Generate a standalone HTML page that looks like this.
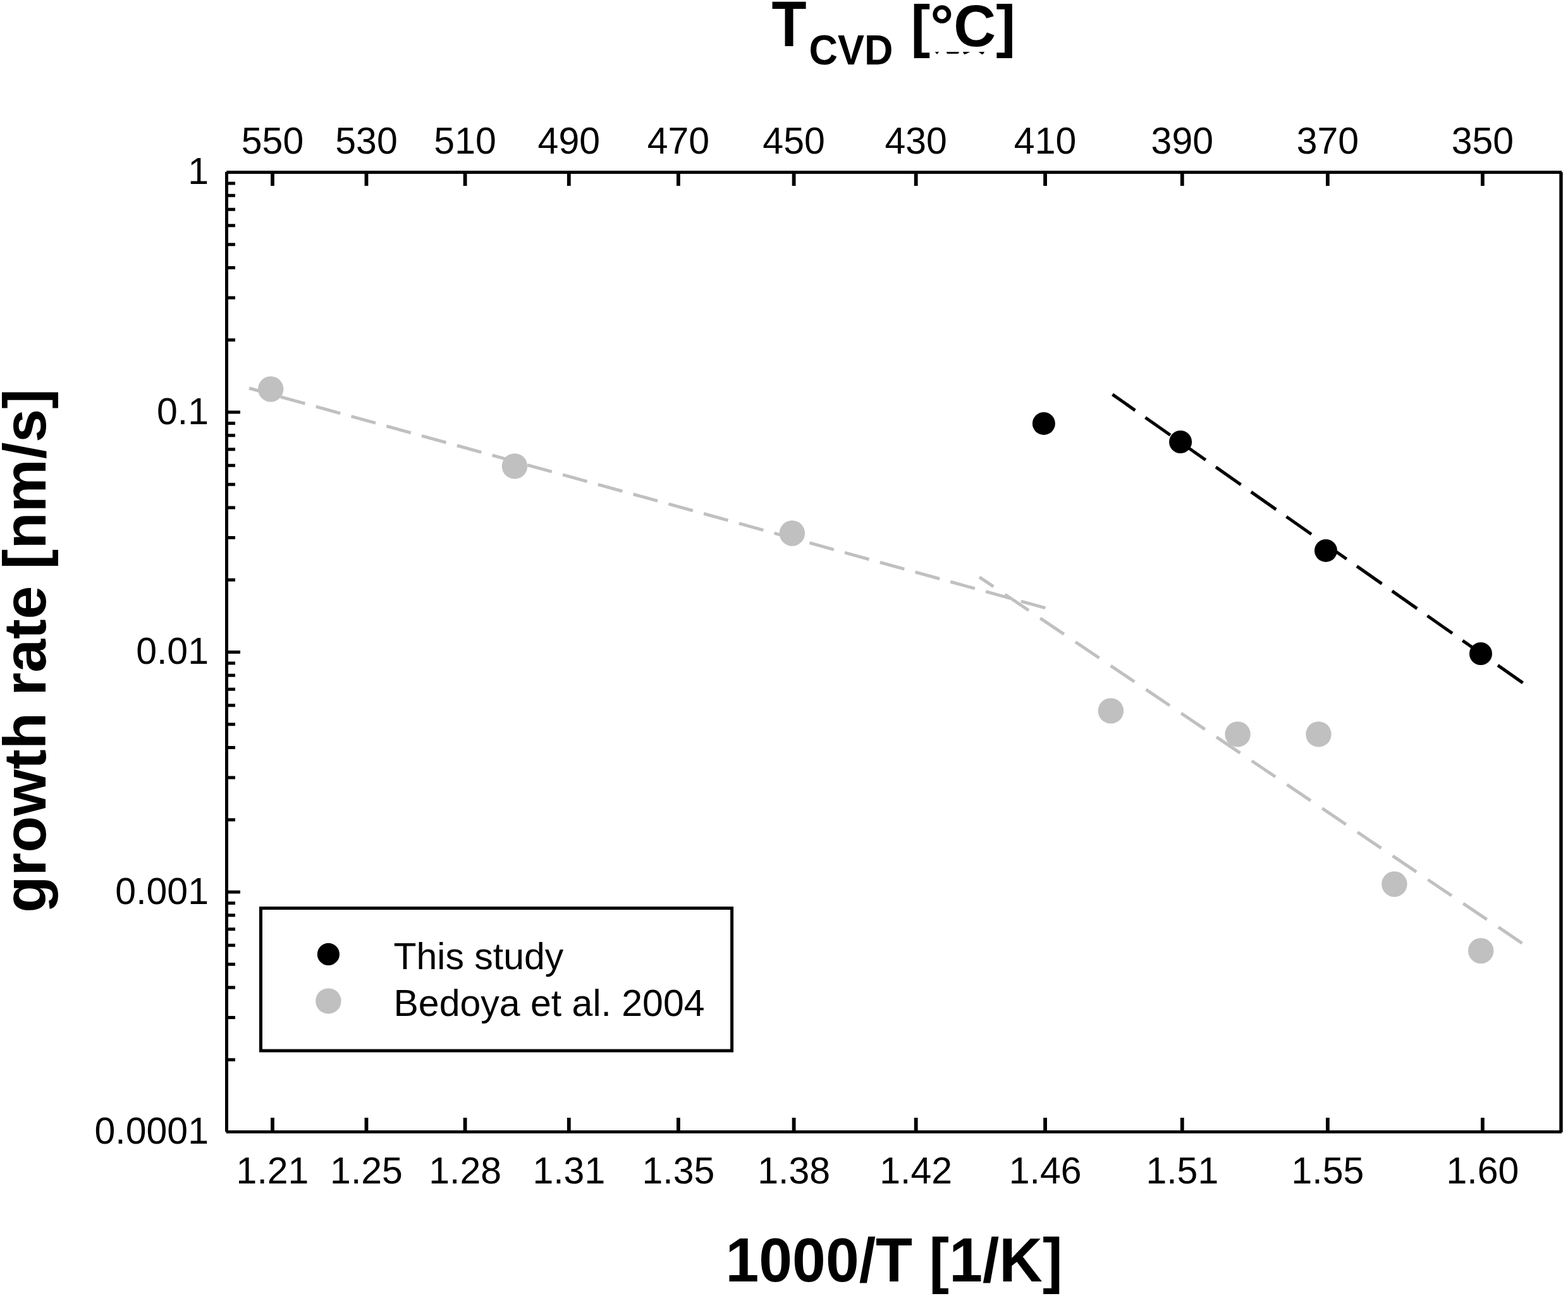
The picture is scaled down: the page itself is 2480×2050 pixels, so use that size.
<!DOCTYPE html>
<html><head><meta charset="utf-8"><title>growth rate vs 1000/T</title>
<style>html,body{margin:0;padding:0;background:#fff;}body{width:2480px;height:2050px;overflow:hidden;}svg{display:block;}text{font-family:"Liberation Sans",Arial,sans-serif;fill:#000;}</style>
</head><body>
<svg width="2480" height="2050" viewBox="0 0 2480 2050">
<rect x="0" y="0" width="2480" height="2050" fill="#fff"/>
<text transform="translate(1220.5 73.3) scale(0.95 1.07)" font-size="95" font-weight="bold">T</text>
<text transform="translate(1279.5 102) scale(1 1.065)" font-size="63" font-weight="bold">CVD</text>
<text transform="translate(1440.5 73.3) scale(0.975 0.975)" font-size="95" font-weight="bold">[°C]</text>
<path d="M1478.9 82L1485.1 82L1482 86Z M1496.9 82L1517.1 82L1515.5 85L1498 85Z M1522.9 82L1534.3 82L1528 85.2L1525 86Z M1547.7 82L1557.1 82L1555 85.5L1553 86Z" fill="#000"/>
<text x="431.0" y="243" font-size="59" text-anchor="middle">550</text>
<text x="579.5" y="243" font-size="59" text-anchor="middle">530</text>
<text x="735.6" y="243" font-size="59" text-anchor="middle">510</text>
<text x="899.8" y="243" font-size="59" text-anchor="middle">490</text>
<text x="1072.9" y="243" font-size="59" text-anchor="middle">470</text>
<text x="1255.6" y="243" font-size="59" text-anchor="middle">450</text>
<text x="1448.7" y="243" font-size="59" text-anchor="middle">430</text>
<text x="1653.1" y="243" font-size="59" text-anchor="middle">410</text>
<text x="1869.8" y="243" font-size="59" text-anchor="middle">390</text>
<text x="2099.9" y="243" font-size="59" text-anchor="middle">370</text>
<text x="2344.9" y="243" font-size="59" text-anchor="middle">350</text>
<text x="431.0" y="1872" font-size="59" text-anchor="middle">1.21</text>
<text x="579.5" y="1872" font-size="59" text-anchor="middle">1.25</text>
<text x="735.6" y="1872" font-size="59" text-anchor="middle">1.28</text>
<text x="899.8" y="1872" font-size="59" text-anchor="middle">1.31</text>
<text x="1072.9" y="1872" font-size="59" text-anchor="middle">1.35</text>
<text x="1255.6" y="1872" font-size="59" text-anchor="middle">1.38</text>
<text x="1448.7" y="1872" font-size="59" text-anchor="middle">1.42</text>
<text x="1653.1" y="1872" font-size="59" text-anchor="middle">1.46</text>
<text x="1869.8" y="1872" font-size="59" text-anchor="middle">1.51</text>
<text x="2099.9" y="1872" font-size="59" text-anchor="middle">1.55</text>
<text x="2344.9" y="1872" font-size="59" text-anchor="middle">1.60</text>
<text x="330" y="291.2" font-size="59" text-anchor="end">1</text>
<text x="330" y="670.7" font-size="59" text-anchor="end">0.1</text>
<text x="330" y="1050.2" font-size="59" text-anchor="end">0.01</text>
<text x="330" y="1429.7" font-size="59" text-anchor="end">0.001</text>
<text x="330" y="1809.2" font-size="59" text-anchor="end">0.0001</text>
<text transform="translate(1414 2027) scale(1 1.025)" font-size="95" font-weight="bold" text-anchor="middle">1000/T [1/K]</text>
<text transform="translate(72 1029.5) rotate(-90)" x="0" y="0" font-size="95" font-weight="bold" text-anchor="middle">growth rate [nm/s]</text>
<path d="M358.5 537.8H372.0M358.5 470.9H372.0M358.5 423.5H372.0M358.5 386.7H372.0M358.5 356.7H372.0M358.5 331.3H372.0M358.5 309.3H372.0M358.5 289.9H372.0M358.5 917.3H372.0M358.5 850.4H372.0M358.5 803.0H372.0M358.5 766.2H372.0M358.5 736.2H372.0M358.5 710.8H372.0M358.5 688.8H372.0M358.5 669.4H372.0M358.5 1296.8H372.0M358.5 1229.9H372.0M358.5 1182.5H372.0M358.5 1145.7H372.0M358.5 1115.7H372.0M358.5 1090.3H372.0M358.5 1068.3H372.0M358.5 1048.9H372.0M358.5 1676.3H372.0M358.5 1609.4H372.0M358.5 1562.0H372.0M358.5 1525.2H372.0M358.5 1495.2H372.0M358.5 1469.8H372.0M358.5 1447.8H372.0M358.5 1428.4H372.0M358.5 652.0H380.0M358.5 1031.5H380.0M358.5 1411.0H380.0" stroke="#000" stroke-width="5" fill="none"/>
<path d="M431.0 272.5V294.0M431.0 1790.5V1768.0M579.5 272.5V294.0M579.5 1790.5V1768.0M735.6 272.5V294.0M735.6 1790.5V1768.0M899.8 272.5V294.0M899.8 1790.5V1768.0M1072.9 272.5V294.0M1072.9 1790.5V1768.0M1255.6 272.5V294.0M1255.6 1790.5V1768.0M1448.7 272.5V294.0M1448.7 1790.5V1768.0M1653.1 272.5V294.0M1653.1 1790.5V1768.0M1869.8 272.5V294.0M1869.8 1790.5V1768.0M2099.9 272.5V294.0M2099.9 1790.5V1768.0M2344.9 272.5V294.0M2344.9 1790.5V1768.0" stroke="#000" stroke-width="5.8" fill="none"/>
<path d="M358.2 270H2470V275H358.2Z M2466.3 272.2H2471.7V1791H2466.3Z M356 272H361V1790.3H356Z M357.7 1788H2470V1792.8H357.7Z" fill="#000"/>
<path d="M394.10 614.00L1653.40 961.70" stroke="#c0c0c0" stroke-width="5" fill="none" stroke-dasharray="39.94 17.90" stroke-dashoffset="6.02"/>
<path d="M1549.00 912.90L2410.00 1493.70" stroke="#c0c0c0" stroke-width="5" fill="none" stroke-dasharray="45.23 22.01" stroke-dashoffset="18.33"/>
<path d="M1759.50 623.90L2410.00 1081.20" stroke="#000" stroke-width="5" fill="none" stroke-dasharray="48.28 19.86" stroke-dashoffset="4.46"/>
<circle cx="428.2" cy="615.5" r="20.2" fill="#c0c0c0"/>
<circle cx="814.0" cy="737.4" r="20.2" fill="#c0c0c0"/>
<circle cx="1252.9" cy="843.5" r="20.2" fill="#c0c0c0"/>
<circle cx="1756.9" cy="1124.4" r="20.2" fill="#c0c0c0"/>
<circle cx="1957.6" cy="1161.4" r="20.2" fill="#c0c0c0"/>
<circle cx="2085.5" cy="1161.4" r="20.2" fill="#c0c0c0"/>
<circle cx="2205.4" cy="1398.5" r="20.2" fill="#c0c0c0"/>
<circle cx="2342.2" cy="1504.0" r="20.2" fill="#c0c0c0"/>
<circle cx="1650.9" cy="669.9" r="18" fill="#000"/>
<circle cx="1867.1" cy="699.0" r="18" fill="#000"/>
<circle cx="2097.0" cy="870.9" r="18" fill="#000"/>
<circle cx="2342.0" cy="1034.0" r="18" fill="#000"/>
<rect x="412.5" y="1436.5" width="745.1" height="225.5" fill="#fff" stroke="#000" stroke-width="5"/>
<circle cx="519.4" cy="1509.4" r="17.6" fill="#000"/>
<circle cx="519.4" cy="1583.4" r="20.2" fill="#c0c0c0"/>
<text x="622.5" y="1533" font-size="59">This study</text>
<text x="622.5" y="1606.5" font-size="59">Bedoya et al. 2004</text>
</svg></body></html>
